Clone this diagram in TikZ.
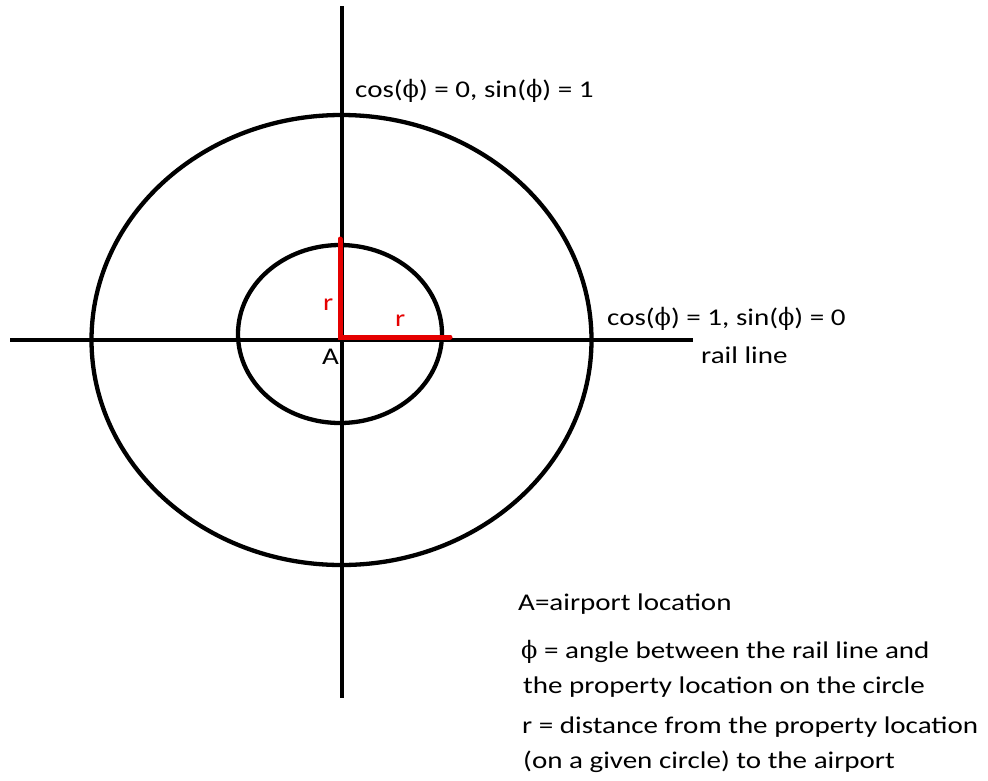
\documentclass[tikz,border=0pt]{standalone}
\usepackage{fontspec}
\setmainfont{Carlito}[FakeStretch=1.21]
\newfontfamily\phifont{DejaVu Serif}[FakeStretch=1.0]
\newcommand{\phisym}{{\phifont\fontsize{24}{28}\selectfont ϕ}}
\begin{document}
\begin{tikzpicture}[x=1pt,y=-1pt,
  axis/.style={line width=4.3pt,black},
  ring/.style={line width=4.3pt,black},
  redline/.style={line width=5pt,red!90!black},
  lbl/.style={anchor=base west,inner sep=0pt,font=\fontsize{24}{28}\selectfont},
  redlbl/.style={lbl,text=red!90!black}]
\useasboundingbox (0,0) rectangle (988,780);
\fill[white] (0,0) rectangle (988,780);
\coordinate (A) at (342,340);
\coordinate (vtop) at (342,6);
\coordinate (vbot) at (342,698);
\coordinate (hleft) at (10,340);
\coordinate (hright) at (693,340);
\coordinate (rtop) at (340,239);
\coordinate (rright) at (450,337);
\coordinate (rcorner) at (340,337);
\draw[ring] (341.5,340) ellipse [x radius=250, y radius=225];
\draw[ring] (340,334) ellipse [x radius=102, y radius=89];
\draw[axis] (vtop) -- (vbot);
\draw[axis] (hleft) -- (hright);
\draw[redline,line cap=round] (rtop) -- (rcorner) -- (rright);
\node[redlbl] (r1) at (323,310) {r};
\node[redlbl] (r2) at (395,326) {r};
\node[lbl] (lA) at (322,364) {A};
\node[lbl] (top) at (355,97) {cos(\phisym) = 0, sin(\phisym) = 1};
\node[lbl] (right) at (607,325) {cos(\phisym) = 1, sin(\phisym) = 0};
\node[lbl] (rail) at (701,363) {rail line};
\node[lbl] (l1) at (518,610) {A=airport location};
\node[lbl] (l2) at (521,658) {\phisym\ = angle between the rail line and};
\node[lbl] (l3) at (523,693) {the property location on the circle};
\node[lbl] (l4) at (522,733) {r = distance from the property location};
\node[lbl] (l5) at (523,768) {(on a given circle) to the airport};
\end{tikzpicture}
\end{document}
